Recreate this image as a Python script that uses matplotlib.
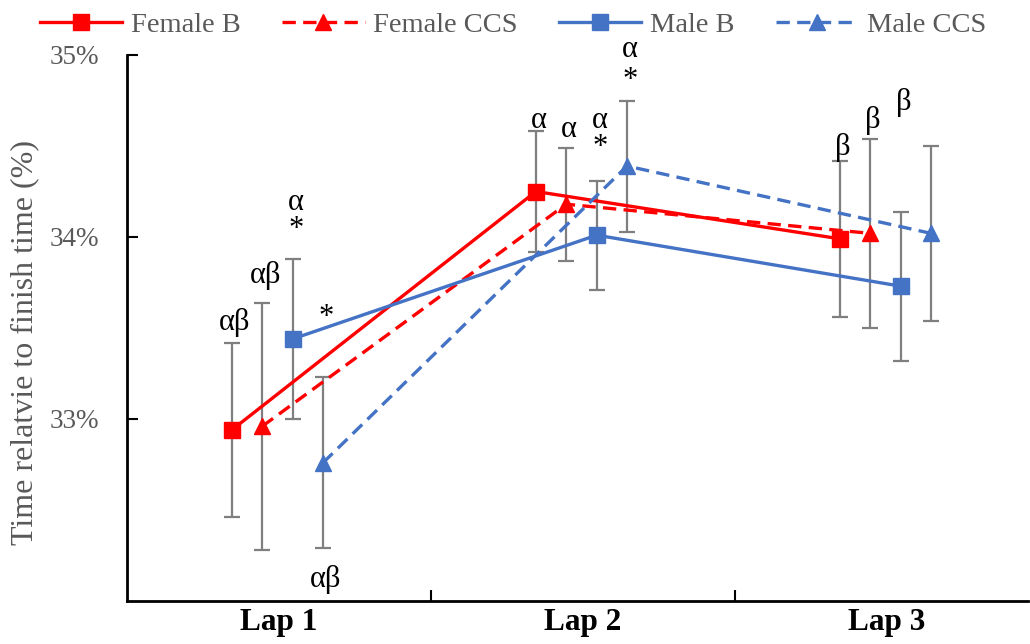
#Lap time relative to finish time, by sex and group

import numpy as np
import matplotlib as mpl
import matplotlib.pyplot as plt
mpl.rcParams['font.family'] = 'Liberation Serif'

#data
laps = ['Lap 1', 'Lap 2', 'Lap 3']
series = ['Female B', 'Female CCS', 'Male B', 'Male CCS']

female_b = [32.94, 34.25, 33.99]
female_b_err = [0.48, 0.33, 0.43]
female_ccs = [32.96, 34.18, 34.02]
female_ccs_err = [0.68, 0.31, 0.52]
male_b = [33.44, 34.01, 33.73]
male_b_err = [0.44, 0.30, 0.41]
male_ccs = [32.76, 34.39, 34.02]
male_ccs_err = [0.47, 0.36, 0.48]

#significance marks: (lap index, series index, text, y)
marks = [(0, 0, 'αβ', 33.53), (0, 1, 'αβ', 33.79), (0, 2, 'α', 34.19), (0, 2, '*', 34.04),
         (0, 3, '*', 33.56), (0, 3, 'αβ', 32.12),
         (1, 0, 'α', 34.64), (1, 1, 'α', 34.59), (1, 2, 'α', 34.64), (1, 2, '*', 34.49),
         (1, 3, 'α', 35.03), (1, 3, '*', 34.86),
         (2, 0, 'β', 34.49), (2, 1, 'β', 34.64), (2, 2, 'β', 34.74)]

#style
red = '#FF0000'
blue = '#4472C4'
grey = '#7F7F7F'
offsets = [-0.155, -0.055, 0.045, 0.145]
colors = [red, red, blue, blue]
styles = ['-', (0, (4, 2.2)), '-', (0, (4, 2.2))]
markers = ['s', '^', 's', '^']
msizes = [11.5, 11, 11.5, 11]

vals = [female_b, female_ccs, male_b, male_ccs]
errs = [female_b_err, female_ccs_err, male_b_err, male_ccs_err]

fig = plt.figure(figsize=(10.3, 6.44), dpi=100)
ax = fig.add_axes([127/1030, 43/644, 901/1030, 546/644])

x = np.arange(1, len(laps) + 1)
for i in range(len(series)):
    xs = x + offsets[i]
    ax.errorbar(xs, vals[i], yerr=errs[i], fmt='none', ecolor=grey, elinewidth=1.6,
                capsize=5.5, capthick=1.6, zorder=2)
    ax.plot(xs, vals[i], color=colors[i], ls=styles[i], lw=2.4, marker=markers[i],
            ms=msizes[i], label=series[i], zorder=3)

for lap, s, txt, y in marks:
    ax.text(x[lap] + offsets[s] + 0.01, y, txt, ha='center', va='center',
            fontsize=22, color='black', clip_on=False, zorder=4)

ax.set_xlim(0.5, 3.464)
ax.set_ylim(32, 35)
ax.set_yticks([33, 34, 35])
ax.set_yticklabels(['33%', '34%', '35%'])
ax.tick_params(axis='y', direction='in', length=8, width=1.5, pad=20,
               labelsize=19.5, labelcolor='#595959')
ax.set_xticks(x)
ax.set_xticklabels(laps, fontweight='bold', fontsize=22.5)
ax.tick_params(axis='x', length=0, pad=5)
ax.set_xticks([1.5, 2.5], minor=True)
ax.tick_params(axis='x', which='minor', direction='in', length=8, width=1.5)

for side in ['top', 'right']:
    ax.spines[side].set_visible(False)
for side in ['left', 'bottom']:
    ax.spines[side].set_linewidth(2)

ax.set_ylabel('Time relatvie to finish time (%)', fontsize=23, color='#595959')
ax.yaxis.set_label_coords(-88/901, 0.474)

fig.legend(loc='center', bbox_to_anchor=(513/1030, 1 - 25/644), ncol=4, frameon=False,
           fontsize=20.5, handlelength=2.9, handletextpad=0.3, columnspacing=1.45,
           labelcolor='#595959')

fig.savefig('out.png', dpi=100)
